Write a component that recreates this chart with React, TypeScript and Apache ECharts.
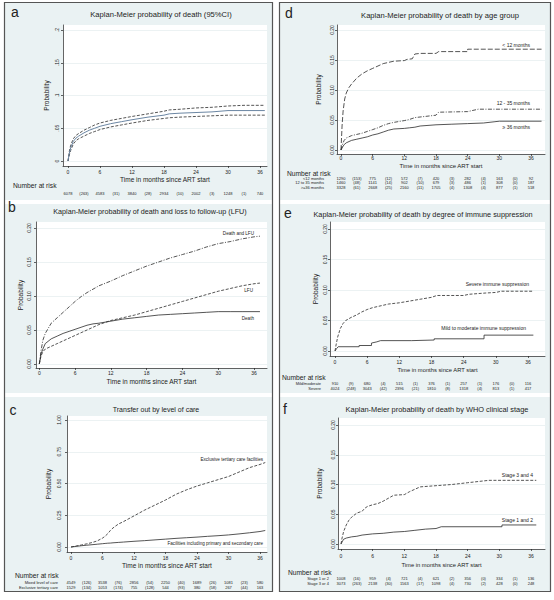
import React, { useEffect, useRef } from "react";
import * as echarts from "echarts";

const FONT = '"Liberation Sans", Arial, Helvetica, sans-serif';
const INK = "#222222";
const LINE = "#2a2a2a";
const KM_BLUE = "#6b86a3";
const PANEL_BG = "#eaf2f3";

// ---------- shared ticks ----------
const X_TICKS = [0, 6, 12, 18, 24, 30, 36];
const RISK_TICKS = [0, 3, 6, 9, 12, 15, 18, 21, 24, 27, 30, 33, 36];
const PROB_TICKS = [0, 0.05, 0.1, 0.15, 0.2];
const PROB_LABELS = ["0.00", "0.05", "0.10", "0.15", "0.20"];
const A_PROB_LABELS = ["0", ".05", ".1", ".15", ".2"];
const C_TICKS = [0, 0.25, 0.5, 0.75, 1];
const C_LABELS = ["0.00", "0.25", "0.50", "0.75", "1.00"];

// ---------- panel a ----------
const aMonths = [0, 0.25, 0.5, 1, 1.5, 2, 3, 4, 5, 6, 8, 10, 12, 15, 18, 19, 21, 24, 27, 30, 33, 36.9];
const aDeath = [0, 0.012, 0.02, 0.03, 0.035, 0.038, 0.043, 0.047, 0.05, 0.053, 0.057, 0.06, 0.063, 0.067, 0.07, 0.072, 0.073, 0.074, 0.075, 0.077, 0.077, 0.077];
const aUpper95 = [0, 0.015, 0.024, 0.034, 0.039, 0.042, 0.047, 0.051, 0.055, 0.058, 0.062, 0.065, 0.068, 0.072, 0.076, 0.078, 0.079, 0.081, 0.082, 0.084, 0.085, 0.085];
const aLower95 = [0, 0.009, 0.016, 0.026, 0.031, 0.034, 0.038, 0.042, 0.045, 0.048, 0.052, 0.055, 0.058, 0.062, 0.065, 0.066, 0.067, 0.068, 0.069, 0.07, 0.07, 0.07];
const aAtRisk = ["6078", "(263)", "4583", "(31)", "3840", "(28)", "2934", "(10)", "2002", "(3)", "1248", "(1)", "740"];

// ---------- panel b ----------
const bMonths = [0, 0.3, 0.6, 1, 2, 3, 4, 5, 6, 7, 8, 9, 10, 12, 14, 16, 18, 20, 22, 24, 26, 28, 30, 32, 34, 36, 37];
const bDeathLfu = [0, 0.02, 0.035, 0.045, 0.06, 0.068, 0.076, 0.084, 0.092, 0.099, 0.105, 0.11, 0.115, 0.122, 0.13, 0.137, 0.144, 0.15, 0.156, 0.161, 0.166, 0.172, 0.177, 0.18, 0.184, 0.187, 0.188];
const bLfu = [0, 0.012, 0.018, 0.022, 0.026, 0.03, 0.034, 0.038, 0.042, 0.046, 0.05, 0.054, 0.058, 0.064, 0.068, 0.072, 0.077, 0.082, 0.087, 0.092, 0.097, 0.102, 0.107, 0.111, 0.115, 0.118, 0.119];
const bDeath = [0, 0.015, 0.022, 0.03, 0.037, 0.041, 0.045, 0.048, 0.051, 0.054, 0.057, 0.059, 0.06, 0.063, 0.066, 0.068, 0.07, 0.072, 0.073, 0.074, 0.075, 0.076, 0.077, 0.077, 0.077, 0.077, 0.077];

// ---------- panel c ----------
const cMonths = [0, 1, 2, 3, 4, 5, 6, 6.5, 7, 7.5, 8, 9, 10, 12, 14, 16, 18, 20, 22, 24, 26, 28, 30, 32, 34, 36, 37];
const cTertiary = [0, 0.008, 0.016, 0.025, 0.035, 0.048, 0.07, 0.085, 0.105, 0.13, 0.15, 0.18, 0.2, 0.245, 0.29, 0.33, 0.37, 0.415, 0.45, 0.48, 0.505, 0.53, 0.555, 0.59, 0.625, 0.65, 0.665];
const cMixed = [0, 0.005, 0.01, 0.014, 0.018, 0.022, 0.026, 0.028, 0.03, 0.031, 0.033, 0.036, 0.039, 0.045, 0.05, 0.056, 0.062, 0.068, 0.073, 0.078, 0.084, 0.089, 0.095, 0.103, 0.112, 0.122, 0.13];
const cRiskMixed = ["4549", "(126)", "3538", "(76)", "2856", "(54)", "2250", "(40)", "1689", "(26)", "1081", "(23)", "580"];
const cRiskTertiary = ["1529", "(134)", "1053", "(174)", "755", "(128)", "544", "(93)", "380", "(58)", "267", "(44)", "163"];

// ---------- panel d ----------
const dLt12Months = [0, 0.2, 0.4, 0.7, 1, 1.5, 2, 3, 4, 5, 6, 7, 8, 9, 10, 12, 12.5, 13.5, 14, 15, 18, 18.5, 24, 24, 38];
const dLt12 = [0, 0.04, 0.065, 0.085, 0.095, 0.104, 0.11, 0.12, 0.127, 0.132, 0.136, 0.14, 0.144, 0.146, 0.148, 0.149, 0.151, 0.152, 0.16, 0.161, 0.161, 0.164, 0.164, 0.168, 0.168];
const d12to35Months = [0, 0.3, 0.6, 1, 2, 3, 4, 5, 6, 7, 8, 9, 10, 12, 13, 14, 16, 18, 18.5, 24, 25, 26, 38];
const d12to35 = [0, 0.01, 0.016, 0.02, 0.024, 0.026, 0.028, 0.031, 0.034, 0.037, 0.041, 0.044, 0.046, 0.049, 0.051, 0.054, 0.056, 0.058, 0.063, 0.064, 0.066, 0.068, 0.068];
const dGe36Months = [0, 0.3, 0.6, 1, 2, 3, 4, 5, 6, 7, 8, 9, 10, 12, 13, 14, 15, 18, 21, 24, 27, 29, 30, 38];
const dGe36 = [0, 0.005, 0.009, 0.012, 0.016, 0.018, 0.02, 0.022, 0.025, 0.027, 0.03, 0.033, 0.035, 0.036, 0.037, 0.038, 0.04, 0.042, 0.043, 0.044, 0.045, 0.047, 0.048, 0.048];
const dRiskLt12 = ["1290", "(153)", "775", "(12)", "572", "(7)", "420", "(3)", "282", "(4)", "163", "(0)", "92"];
const dRisk12to35 = ["1460", "(48)", "1141", "(14)", "902", "(10)", "679", "(3)", "486", "(1)", "308", "(0)", "187"];
const dRiskGe36 = ["3328", "(61)", "2668", "(25)", "2160", "(11)", "1705", "(4)", "1308", "(4)", "877", "(1)", "518"];

// ---------- panel e ----------
const eSevereMonths = [0, 0.2, 0.5, 1, 1.5, 2, 3, 4, 5, 6, 7, 8, 9, 10, 12, 14, 16, 18, 19, 24, 25, 28, 30, 31, 37];
const eSevere = [0, 0.01, 0.023, 0.037, 0.045, 0.05, 0.055, 0.059, 0.064, 0.068, 0.071, 0.073, 0.075, 0.077, 0.079, 0.082, 0.085, 0.088, 0.091, 0.091, 0.093, 0.095, 0.096, 0.098, 0.098];
const eMildMonths = [0, 0.3, 0.6, 4.5, 4.5, 6.8, 6.8, 7.8, 8.5, 14.3, 14.3, 18.5, 18.5, 27.8, 27.8, 37];
const eMild = [0, 0.004, 0.007, 0.007, 0.009, 0.009, 0.013, 0.015, 0.017, 0.017, 0.018, 0.018, 0.02, 0.02, 0.026, 0.026];
const eRiskMild = ["910", "(9)", "680", "(4)", "515", "(1)", "376", "(1)", "257", "(1)", "176", "(0)", "116"];
const eRiskSevere = ["4024", "(248)", "3043", "(42)", "2396", "(21)", "1810", "(8)", "1318", "(4)", "813", "(1)", "417"];

// ---------- panel f ----------
const fStage34Months = [0, 0.2, 0.5, 1, 1.5, 2, 3, 4, 4.5, 5, 6, 7, 8, 9, 10, 12, 13, 14, 15, 18, 21, 24, 27, 28, 37];
const fStage34 = [0, 0.01, 0.021, 0.032, 0.04, 0.045, 0.052, 0.055, 0.06, 0.063, 0.066, 0.068, 0.072, 0.077, 0.082, 0.083, 0.088, 0.092, 0.096, 0.098, 0.1, 0.103, 0.106, 0.107, 0.107];
const fStage12Months = [0, 0.3, 0.5, 1, 2, 3, 4, 6, 8, 10, 12, 14, 16, 18, 19, 30.5, 30.5, 37];
const fStage12 = [0, 0.005, 0.008, 0.01, 0.012, 0.013, 0.015, 0.017, 0.018, 0.02, 0.021, 0.023, 0.025, 0.026, 0.029, 0.029, 0.032, 0.032];
const fRisk12 = ["1008", "(16)", "959", "(4)", "721", "(4)", "621", "(2)", "356", "(0)", "334", "(1)", "136"];
const fRisk34 = ["3073", "(263)", "2138", "(30)", "1563", "(17)", "1098", "(4)", "730", "(2)", "428", "(0)", "248"];

// ---------- styles ----------
const DASH = [3, 1.6];
const DASH_DOT = [4, 1.5, 1, 1.5];
const LONG_DASH = [5, 2];

type Line = { t: number[]; v: number[]; color: string; width: number; dash: any };
type Note = { text: string; x: number; y: number };
type Panel = {
  letter: string;
  title: string;
  bg: number[];
  letterPos: number[];
  titlePos: number[];
  titleFs: number;
  grid: number[];
  x0: number;
  x36: number;
  y0: number;
  yTopPx: number;
  yTicks: number[];
  yLabels: string[];
  yLabelX: number;
  xLabelY: number;
  xTitleY: number;
  yTitleX: number;
  xTitleFs: number;
  lines: Line[];
  risk?: { header: number[]; rowY: number[]; labelRight: number; rows: { label: string; values: string[] }[] };
  notes: Note[];
  noteFs: number;
};

const panels: Panel[] = [
  {
    letter: "a", title: "Kaplan-Meier probability of death (95%CI)",
    bg: [5, 3, 272, 200], letterPos: [15, 12], titlePos: [161, 14], titleFs: 7.6,
    grid: [63, 25, 267, 166], x0: 68, x36: 260, y0: 161, yTopPx: 30,
    yTicks: PROB_TICKS, yLabels: A_PROB_LABELS,
    yLabelX: 57, xLabelY: 172, xTitleY: 179, yTitleX: 47, xTitleFs: 6.5,
    lines: [
      { t: aMonths, v: aUpper95, color: LINE, width: 0.8, dash: DASH },
      { t: aMonths, v: aLower95, color: LINE, width: 0.8, dash: DASH },
      { t: aMonths, v: aDeath, color: KM_BLUE, width: 1, dash: "solid" },
    ],
    risk: { header: [13, 185], rowY: [193], labelRight: 58, rows: [{ label: "", values: aAtRisk }] },
    notes: [], noteFs: 5,
  },
  {
    letter: "b", title: "Kaplan-Meier probability of death and loss to follow-up (LFU)",
    bg: [5, 204, 272, 393], letterPos: [12, 207], titlePos: [150, 211], titleFs: 7.2,
    grid: [36, 222, 267, 368], x0: 39.3, x36: 254, y0: 364, yTopPx: 228,
    yTicks: PROB_TICKS, yLabels: PROB_LABELS,
    yLabelX: 29, xLabelY: 372.5, xTitleY: 381, yTitleX: 21, xTitleFs: 6.5,
    lines: [
      { t: bMonths, v: bDeathLfu, color: LINE, width: 0.8, dash: DASH_DOT },
      { t: bMonths, v: bLfu, color: LINE, width: 0.8, dash: DASH },
      { t: bMonths, v: bDeath, color: LINE, width: 0.8, dash: "solid" },
    ],
    notes: [
      { text: "Death and LFU", x: 254, y: 233 },
      { text: "LFU", x: 253, y: 290 },
      { text: "Death", x: 254, y: 318 },
    ],
    noteFs: 4.6,
  },
  {
    letter: "c", title: "Transfer out by level of care",
    bg: [5, 397, 272, 591], letterPos: [13, 410], titlePos: [156, 409], titleFs: 7,
    grid: [67, 416, 267, 552], x0: 71, x36: 260, y0: 547, yTopPx: 420,
    yTicks: C_TICKS, yLabels: C_LABELS,
    yLabelX: 59, xLabelY: 558, xTitleY: 565, yTitleX: 49, xTitleFs: 6.5,
    lines: [
      { t: cMonths, v: cTertiary, color: LINE, width: 0.8, dash: DASH },
      { t: cMonths, v: cMixed, color: LINE, width: 0.8, dash: "solid" },
    ],
    risk: {
      header: [15, 575], rowY: [582, 587], labelRight: 58,
      rows: [
        { label: "Mixed level of care", values: cRiskMixed },
        { label: "Exclusive tertiary care", values: cRiskTertiary },
      ],
    },
    notes: [
      { text: "Exclusive tertiary care facilities", x: 263, y: 459 },
      { text: "Facilities including primary and secondary care", x: 263, y: 543 },
    ],
    noteFs: 4.6,
  },
  {
    letter: "d", title: "Kaplan-Meier probability of death by age group",
    bg: [280, 3, 550, 200], letterPos: [289, 13], titlePos: [440, 15], titleFs: 7.6,
    grid: [337, 25, 545, 154], x0: 341, x36: 531, y0: 150, yTopPx: 30,
    yTicks: PROB_TICKS, yLabels: PROB_LABELS,
    yLabelX: 332, xLabelY: 157.5, xTitleY: 166, yTitleX: 319, xTitleFs: 6,
    lines: [
      { t: dLt12Months, v: dLt12, color: LINE, width: 0.8, dash: LONG_DASH },
      { t: d12to35Months, v: d12to35, color: LINE, width: 0.8, dash: DASH_DOT },
      { t: dGe36Months, v: dGe36, color: LINE, width: 0.8, dash: "solid" },
    ],
    risk: {
      header: [287, 173], rowY: [178, 182.5, 187], labelRight: 324,
      rows: [
        { label: "<12 months", values: dRiskLt12 },
        { label: "12 to 35 months", values: dRisk12to35 },
        { label: ">=36 months", values: dRiskGe36 },
      ],
    },
    notes: [
      { text: "< 12 months", x: 530, y: 45 },
      { text: "12 - 35 months", x: 530, y: 103 },
      { text: "≥ 36 months", x: 530, y: 127 },
    ],
    noteFs: 5,
  },
  {
    letter: "e", title: "Kaplan-Meier probability of death by degree of immune suppression",
    bg: [280, 204, 550, 393], letterPos: [288, 213], titlePos: [423, 214], titleFs: 7.3,
    grid: [330, 222, 545, 356], x0: 335, x36: 528, y0: 351, yTopPx: 229,
    yTicks: PROB_TICKS, yLabels: PROB_LABELS,
    yLabelX: 325, xLabelY: 362, xTitleY: 370, yTitleX: 316, xTitleFs: 5.8,
    lines: [
      { t: eSevereMonths, v: eSevere, color: LINE, width: 0.8, dash: DASH },
      { t: eMildMonths, v: eMild, color: LINE, width: 0.8, dash: "solid" },
    ],
    risk: {
      header: [282, 377], rowY: [383, 388], labelRight: 321,
      rows: [
        { label: "Mild/moderate", values: eRiskMild },
        { label: "Severe", values: eRiskSevere },
      ],
    },
    notes: [
      { text: "Severe immune suppression", x: 529, y: 284 },
      { text: "Mild to moderate immune suppression", x: 526, y: 328 },
    ],
    noteFs: 5,
  },
  {
    letter: "f", title: "Kaplan-Meier probability of death by WHO clinical stage",
    bg: [280, 397, 550, 591], letterPos: [285, 409], titlePos: [437, 409], titleFs: 7.4,
    grid: [338, 418, 545, 549], x0: 341, x36: 531, y0: 544, yTopPx: 425,
    yTicks: PROB_TICKS, yLabels: PROB_LABELS,
    yLabelX: 333, xLabelY: 556, xTitleY: 565, yTitleX: 320, xTitleFs: 5.8,
    lines: [
      { t: fStage34Months, v: fStage34, color: LINE, width: 0.8, dash: DASH },
      { t: fStage12Months, v: fStage12, color: LINE, width: 0.8, dash: "solid" },
    ],
    risk: {
      header: [288, 572], rowY: [578, 583], labelRight: 329,
      rows: [
        { label: "Stage 1 or 2", values: fRisk12 },
        { label: "Stage 3 or 4", values: fRisk34 },
      ],
    },
    notes: [
      { text: "Stage 3 and 4", x: 533, y: 475 },
      { text: "Stage 1 and 2", x: 533, y: 520 },
    ],
    noteFs: 5,
  },
];

const zip = (t: number[], v: number[]) => t.map((x, i) => [x, v[i]]);

const txt = (text: string, x: number, y: number, fs: number, align = "left") => ({
  type: "text",
  x,
  y,
  z: 20,
  silent: true,
  style: {
    text,
    fontSize: fs,
    fontFamily: FONT,
    fill: INK,
    align,
    verticalAlign: "middle",
    textAlign: align,
    textVerticalAlign: "middle",
  },
});

function buildOption() {
  const grid: any[] = [];
  const xAxis: any[] = [];
  const yAxis: any[] = [];
  const series: any[] = [];
  const graphic: any[] = [];

  panels.forEach((p, i) => {
    const [L, T, R, B] = p.grid;
    const yTop = p.yTicks[p.yTicks.length - 1];
    const xf = (px: number) => ((px - p.x0) * 36) / (p.x36 - p.x0);
    const yf = (py: number) => ((p.y0 - py) * yTop) / (p.y0 - p.yTopPx);
    const xMin = xf(L);
    const xMax = xf(R);

    grid.push({
      left: L,
      top: T,
      width: R - L,
      height: B - T,
      show: true,
      backgroundColor: "#ffffff",
      borderWidth: 0,
      containLabel: false,
      outerBoundsMode: "none",
    });

    const mainX = xAxis.length;
    xAxis.push({
      type: "value",
      gridIndex: i,
      min: xMin,
      max: xMax,
      position: "bottom",
      axisLine: { show: true, onZero: false, lineStyle: { color: INK, width: 0.7 } },
      axisTick: { show: true, length: 2, inside: false, customValues: X_TICKS, lineStyle: { color: INK, width: 0.7 } },
      axisLabel: {
        show: true,
        customValues: X_TICKS,
        fontSize: 5,
        fontFamily: FONT,
        color: INK,
        margin: Math.max(0, p.xLabelY - B - 2.5),
      },
      splitLine: { show: false },
      name: "Time in months since ART start",
      nameLocation: "middle",
      nameGap: p.xTitleY - B - p.xTitleFs / 2,
      nameMoveOverlap: false,
      nameTextStyle: { fontSize: p.xTitleFs, fontFamily: FONT, color: INK },
    });

    if (p.risk) {
      p.risk.rowY.forEach((ry, r) => {
        const values = p.risk!.rows[r].values;
        xAxis.push({
          type: "value",
          gridIndex: i,
          min: xMin,
          max: xMax,
          position: "bottom",
          offset: ry - B,
          axisLine: { show: false },
          axisTick: { show: false },
          splitLine: { show: false },
          axisLabel: {
            show: true,
            customValues: RISK_TICKS,
            fontSize: 4,
            fontFamily: FONT,
            color: INK,
            margin: 0,
            verticalAlign: "middle",
            formatter: (v: number) => {
              const k = Math.round(v / 3);
              return Math.abs(v - k * 3) < 1e-6 && values[k] !== undefined ? values[k] : "";
            },
          },
        });
      });
      graphic.push(txt("Number at risk", p.risk.header[0], p.risk.header[1], 6.7));
      p.risk.rows.forEach((row, r) => {
        if (row.label) graphic.push(txt(row.label, p.risk!.labelRight, p.risk!.rowY[r], 4, "right"));
      });
    }

    yAxis.push({
      type: "value",
      gridIndex: i,
      min: yf(B),
      max: yf(T),
      axisLine: { show: true, onZero: false, lineStyle: { color: INK, width: 0.7 } },
      axisTick: { show: true, length: 2, inside: false, customValues: p.yTicks, lineStyle: { color: INK, width: 0.7 } },
      axisLabel: {
        show: true,
        customValues: p.yTicks,
        rotate: 90,
        fontSize: 5,
        fontFamily: FONT,
        color: INK,
        margin: Math.max(0, L - p.yLabelX - 2.5),
        formatter: (v: number) => {
          const k = p.yTicks.findIndex((t) => Math.abs(t - v) < 1e-9);
          return k >= 0 ? p.yLabels[k] : "";
        },
      },
      splitLine: { show: true, lineStyle: { color: "#e4ecee", width: 0.7 } },
      name: "Probability",
      nameLocation: "middle",
      nameRotate: 90,
      nameGap: L - p.yTitleX - 3.25,
      nameMoveOverlap: false,
      nameTextStyle: { fontSize: 6.5, fontFamily: FONT, color: INK },
    });

    p.lines.forEach((l) => {
      series.push({
        type: "line",
        xAxisIndex: mainX,
        yAxisIndex: i,
        data: zip(l.t, l.v),
        symbol: "none",
        showSymbol: false,
        silent: true,
        z: 3,
        lineStyle: { color: l.color, width: l.width, type: l.dash },
      });
    });

    const [bx0, by0, bx1, by1] = p.bg;
    graphic.push({
      type: "rect",
      z: -10,
      silent: true,
      shape: { x: bx0, y: by0, width: bx1 - bx0, height: by1 - by0 },
      style: { fill: PANEL_BG },
    });
    graphic.push(txt(p.letter, p.letterPos[0], p.letterPos[1], 14, "center"));
    graphic.push(txt(p.title, p.titlePos[0], p.titlePos[1], p.titleFs, "center"));
    p.notes.forEach((n) => graphic.push(txt(n.text, n.x, n.y, p.noteFs, "right")));
  });

  // column frames
  graphic.push({
    type: "rect",
    z: 30,
    silent: true,
    shape: { x: 4.5, y: 2.5, width: 268, height: 589 },
    style: { fill: "none", stroke: "#555555", lineWidth: 1.2 },
  });
  graphic.push({
    type: "rect",
    z: 30,
    silent: true,
    shape: { x: 279.5, y: 2.5, width: 271, height: 589 },
    style: { fill: "none", stroke: "#555555", lineWidth: 1.2 },
  });

  return {
    animation: false,
    backgroundColor: "#ffffff",
    textStyle: { fontFamily: FONT },
    grid,
    xAxis,
    yAxis,
    series,
    graphic: { elements: graphic },
  };
}

export default function App() {
  const ref = useRef<HTMLDivElement>(null);
  useEffect(() => {
    if (!ref.current) return;
    const chart = echarts.init(ref.current, undefined, { renderer: "svg", width: 554, height: 600 });
    chart.setOption(buildOption() as any);
    return () => chart.dispose();
  }, []);
  return (
    <div
      ref={ref}
      style={{ position: "absolute", left: 0, top: 0, width: 554, height: 600, background: "#ffffff" }}
    />
  );
}
